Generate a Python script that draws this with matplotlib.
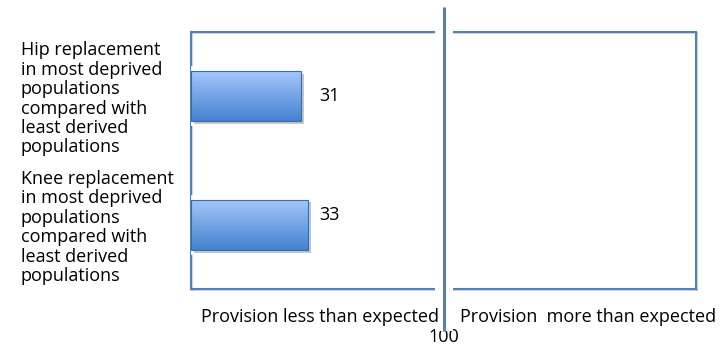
import numpy as np
import matplotlib
matplotlib.use('Agg')
import matplotlib.pyplot as plt
import matplotlib.patheffects as pe
from matplotlib.colors import LinearSegmentedColormap
from matplotlib.ticker import NullLocator
from matplotlib.transforms import blended_transform_factory

# ---- data ----
categories = [
    "Hip replacement\nin most deprived\npopulations\ncompared with\nleast derived\npopulations",
    "Knee replacement\nin most deprived\npopulations\ncompared with\nleast derived\npopulations",
]
values = [31, 33]
value_labels = ["31", "33"]
reference_value = 100
reference_label = "100"
side_labels = ["Provision less than expected", "Provision  more than expected"]

# ---- style ----
plt.rcParams['font.family'] = ['Open Sans', 'DejaVu Sans']
FS = 13
blue = '#4F81BD'
top_c, bot_c = '#A3C5F8', '#4581D0'
cmap = LinearSegmentedColormap.from_list('g', [top_c, bot_c])

fig = plt.figure(figsize=(7.2, 3.52), dpi=100)
ax = fig.add_axes([191/720, 1-289/352, 505/720, 257/352])
ax.set_xscale('log')
xmin, xmax = 12.6, 790
ax.set_xlim(xmin, xmax)
ax.set_ylim(1.5, -0.5)

h = 0.39
nstrip = 40
for i, v in enumerate(values):
    ax.barh(i, v - xmin, left=xmin, height=h, color=bot_c, edgecolor='none', zorder=3,
            path_effects=[pe.Stroke(linewidth=7, foreground='white'),
                          pe.SimplePatchShadow(offset=(2, -2), shadow_rgbFace='gray', alpha=0.45),
                          pe.Normal()])
    for k in range(nstrip):
        y0 = i - h/2 + k*h/nstrip
        ax.barh(y0, v - xmin, left=xmin, height=h/nstrip*1.05, align='edge',
                color=cmap(k/(nstrip-1)), edgecolor='none', zorder=4)
    ax.barh(i, v - xmin, left=xmin, height=h, facecolor='none', edgecolor='#3C6DAA',
            linewidth=0.8, zorder=5)

trans = blended_transform_factory(ax.transAxes, ax.transData)
dy = [0.0, -0.075]
for i, lab in enumerate(value_labels):
    ax.text(0.2535, i + dy[i], lab, transform=trans, ha='left', va='center',
            fontsize=FS, color='black', zorder=7)

for s in ax.spines.values():
    s.set_color(blue)
    s.set_linewidth(1.5)
    s.set_path_effects([pe.SimpleLineShadow(offset=(1, -1), shadow_color='gray', alpha=0.3),
                        pe.Normal()])

ax.axvline(reference_value, ymin=-0.163, ymax=1.097, color=blue, lw=2.2, clip_on=False,
           zorder=6, solid_capstyle='butt',
           path_effects=[pe.Stroke(linewidth=13, foreground='white', capstyle='butt'),
                         pe.Normal()])

ax.set_xticks([reference_value])
ax.set_xticklabels([reference_label], fontsize=FS)
ax.xaxis.set_minor_locator(NullLocator())
ax.tick_params(axis='x', length=0, pad=28)

ax.set_yticks(range(len(categories)))
ax.set_yticklabels(categories, ha='left', linespacing=1.1, fontsize=FS)
ax.tick_params(axis='y', length=0, pad=122.4)

ax.text(0.0198, -0.109, side_labels[0], transform=ax.transAxes, ha='left', va='center',
        fontsize=FS, zorder=7)
ax.text(0.5327, -0.109, side_labels[1], transform=ax.transAxes, ha='left', va='center',
        fontsize=FS, zorder=7)

fig.savefig('out.png', dpi=100, facecolor='white')
